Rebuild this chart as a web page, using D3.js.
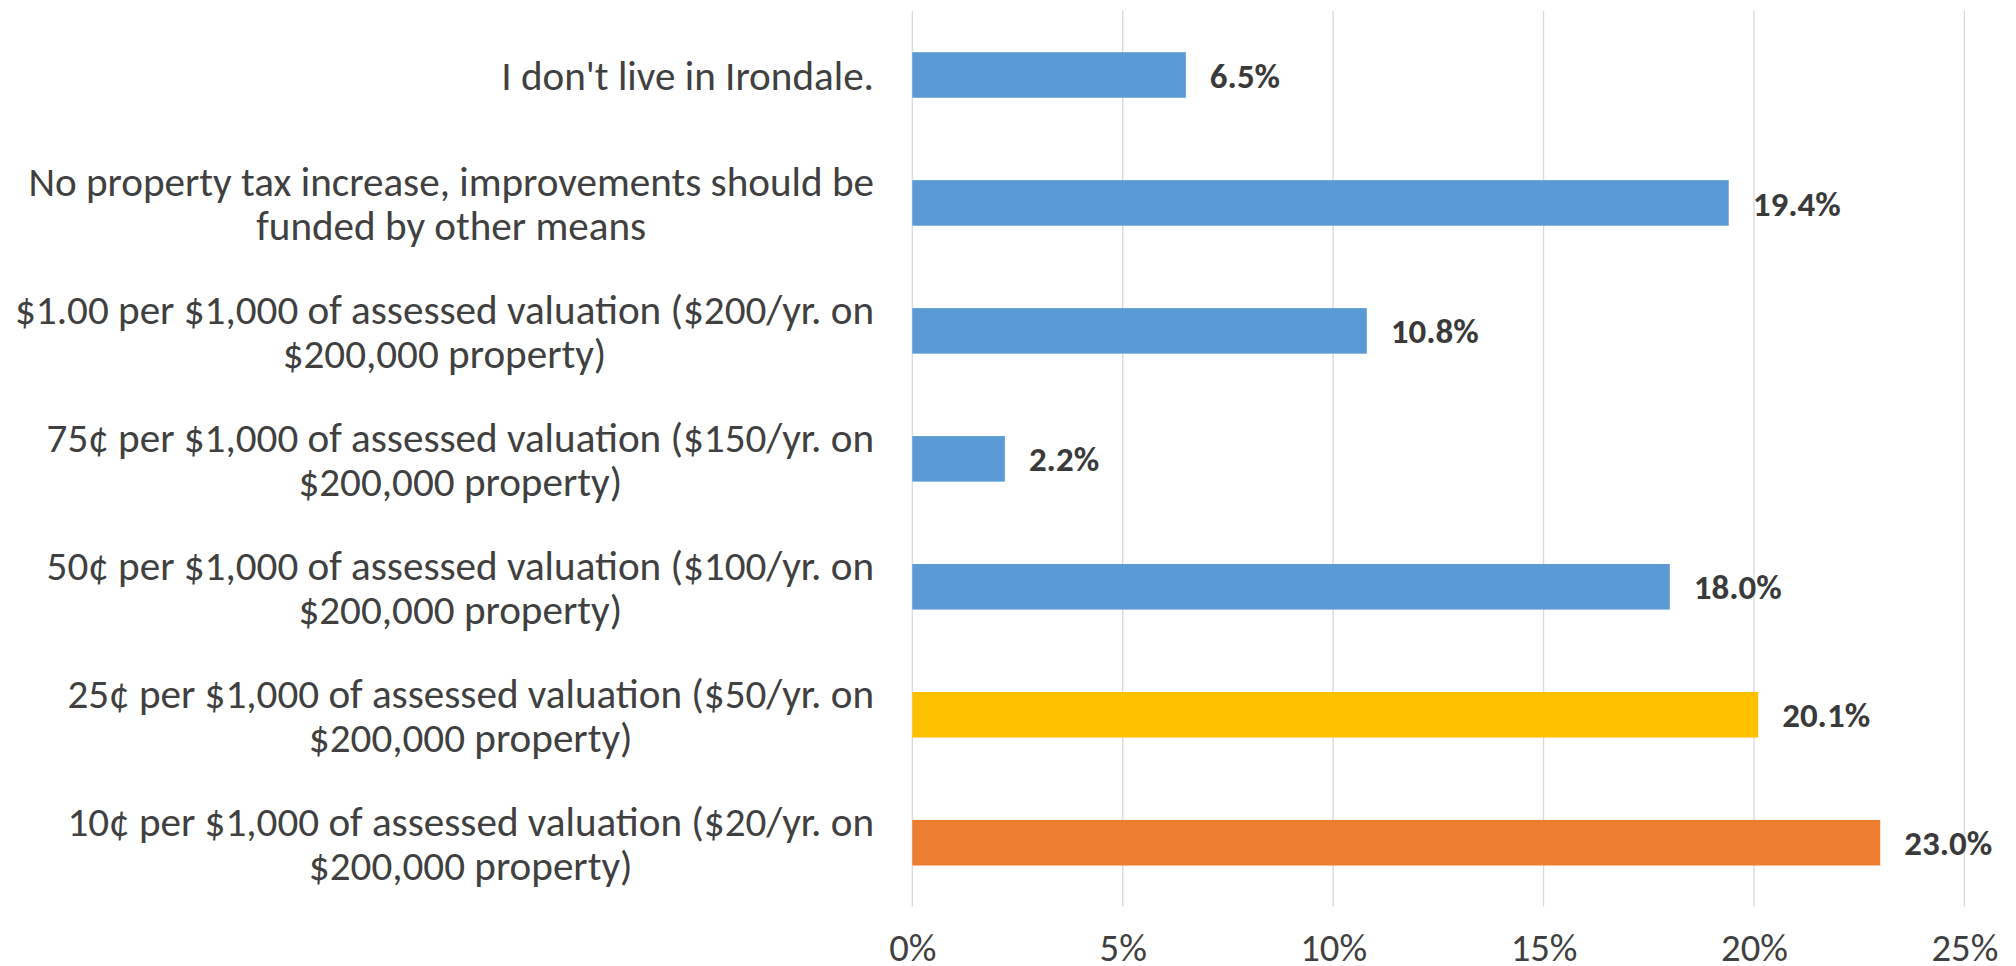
<!DOCTYPE html>
<html>
<head>
<meta charset="utf-8">
<script src="https://cdn.jsdelivr.net/npm/d3@7"></script>
<style>
  html, body { margin: 0; padding: 0; background: #ffffff; }
  svg { display: block; }
  text { font-family: Carlito, "Open Sans", Lato, "Liberation Sans", sans-serif; }
</style>
</head>
<body>
<svg id="chart" width="2016" height="966"></svg>
<script>
const categories = [
  "I don't live in Irondale.",
  "No property tax increase, improvements should be\nfunded by other means",
  "$1.00 per $1,000 of assessed valuation ($200/yr. on\n$200,000 property)",
  "75¢ per $1,000 of assessed valuation ($150/yr. on\n$200,000 property)",
  "50¢ per $1,000 of assessed valuation ($100/yr. on\n$200,000 property)",
  "25¢ per $1,000 of assessed valuation ($50/yr. on\n$200,000 property)",
  "10¢ per $1,000 of assessed valuation ($20/yr. on\n$200,000 property)"
];
const values = [6.5, 19.4, 10.8, 2.2, 18.0, 20.1, 23.0];
const barColors = ["#5B9BD5", "#5B9BD5", "#5B9BD5", "#5B9BD5", "#5B9BD5", "#FFC000", "#ED7D31"];
const xTicks = [0, 5, 10, 15, 20, 25];
const tickLabels = ["0%", "5%", "10%", "15%", "20%", "25%"];

const svg = d3.select("#chart");
const W = 2016, H = 966;
const plotLeft = 912.3, plotRight = 1964.4, plotTop = 11, plotBottom = 906.7;

const x = d3.scaleLinear().domain([0, 25]).range([plotLeft, plotRight]);
const y = d3.scaleBand().domain(categories).range([plotTop, plotBottom])
  .paddingInner(0.644).paddingOuter(0.322);

svg.append("rect").attr("width", W).attr("height", H).attr("fill", "#ffffff");

function fitSize(str, target, weight) {
  const t = svg.append("text").attr("font-size", 100).attr("font-weight", weight).text(str);
  const w = t.node().getComputedTextLength();
  t.remove();
  return 100 * target / w;
}

// gridlines
svg.append("g").selectAll("line").data(xTicks).join("line")
  .attr("x1", d => x(d)).attr("x2", d => x(d))
  .attr("y1", plotTop).attr("y2", plotBottom)
  .attr("stroke", "#D9D9D9").attr("stroke-width", 1.3);

// bars
svg.append("g").selectAll("rect").data(values).join("rect")
  .attr("x", x(0))
  .attr("y", (d, i) => y(categories[i]))
  .attr("width", d => x(d) - x(0))
  .attr("height", y.bandwidth())
  .attr("fill", (d, i) => barColors[i]);

// data labels
const dlSize = fitSize("19.4%", 88, "bold");
svg.append("g").selectAll("text").data(values).join("text")
  .attr("x", d => x(d) + 24)
  .attr("y", (d, i) => y(categories[i]) + y.bandwidth() / 2)
  .attr("dy", "0.36em")
  .attr("font-size", dlSize)
  .attr("font-weight", "bold")
  .attr("fill", "#3A3A3A")
  .text(d => d.toFixed(1) + "%");

const fs = fitSize("No property tax increase, improvements should be", 846, "normal");

// x axis
const xAxis = svg.append("g").attr("transform", `translate(0,${plotBottom})`)
  .call(d3.axisBottom(x).tickValues(xTicks).tickSize(0)
    .tickFormat((d, i) => tickLabels[i]));
xAxis.select(".domain").remove();
xAxis.selectAll("text")
  .attr("y", 947 - plotBottom).attr("dy", "0.35em")
  .attr("font-size", fs * 0.94).attr("fill", "#404040")
  .style("font-family", "Carlito, 'Open Sans', Lato, 'Liberation Sans', sans-serif");

// y axis (category labels)
const labelRight = 874;
const yAxis = svg.append("g").attr("transform", `translate(${plotLeft},0)`)
  .call(d3.axisLeft(y).tickSize(0).tickFormat(""));
yAxis.select(".domain").remove();

const lineH = 44;
const labelG = svg.append("g");
categories.forEach((c, i) => {
  const lines = c.split("\n");
  const cy = y(c) + y.bandwidth() / 2;
  const t = labelG.append("text")
    .attr("font-size", fs).attr("fill", "#404040").attr("text-anchor", "middle");
  lines.forEach((ln, k) => {
    t.append("tspan").attr("x", 0)
      .attr("y", cy + (k - (lines.length - 1) / 2) * lineH)
      .attr("dy", "0.36em").text(ln);
  });
  let maxW = 0;
  t.selectAll("tspan").each(function () { maxW = Math.max(maxW, this.getComputedTextLength()); });
  t.selectAll("tspan").attr("x", labelRight - maxW / 2);
});
</script>
</body>
</html>
